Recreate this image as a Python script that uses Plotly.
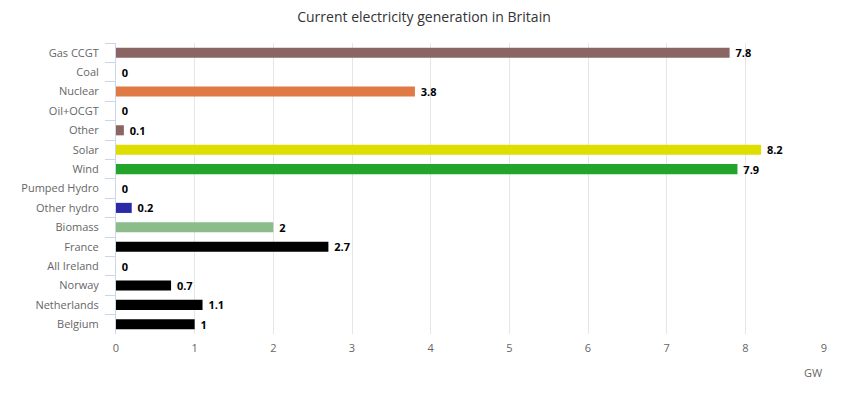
import plotly.graph_objects as go

categories = ["Gas CCGT", "Coal", "Nuclear", "Oil+OCGT", "Other", "Solar", "Wind",
              "Pumped Hydro", "Other hydro", "Biomass", "France", "All Ireland",
              "Norway", "Netherlands", "Belgium"]
values = [7.8, 0, 3.8, 0, 0.1, 8.2, 7.9, 0, 0.2, 2, 2.7, 0, 0.7, 1.1, 1]
colors = ["#8b6464", "#8b6464", "#e07a45", "#8b6464", "#8b6464", "#dede00", "#22a52a",
          "#2a2aa8", "#2a2aa8", "#8abd8a", "#000000", "#000000", "#000000", "#000000", "#000000"]
x_ticks = list(range(0, 10))

font_family = "Open Sans, DejaVu Sans, sans-serif"

fig = go.Figure(go.Bar(
    y=categories,
    x=values,
    orientation="h",
    marker=dict(color=colors, line=dict(width=0)),
    text=[f"{v:g}" for v in values],
    texttemplate="\u00a0<b>%{text}</b>",
    textposition="outside",
    constraintext="none",
    outsidetextfont=dict(size=11, color="#000000", family=font_family),
    textfont=dict(size=11, color="#000000", family=font_family),
    cliponaxis=False,
    hoverinfo="x+y",
))

H = 396
plot_top = 43
plot_bottom = 334
plot_h = plot_bottom - plot_top

fig.update_layout(
    width=848, height=H,
    margin=dict(l=116, r=24, t=plot_top, b=H - plot_bottom, autoexpand=False),
    paper_bgcolor="white", plot_bgcolor="white",
    bargap=0.48,
    showlegend=False,
    font=dict(family=font_family, color="#666666", size=11),
    title=dict(text="Current electricity generation in Britain", x=0.5, xanchor="center",
               y=1 - 17 / H, yanchor="middle",
               font=dict(size=14, color="#333333", family=font_family)),
    xaxis=dict(range=[0, 9], tickvals=x_ticks, showgrid=True, gridcolor="#e6e6e6",
               gridwidth=1, zeroline=False, showline=False, ticks="", automargin=False,
               ticklabelstandoff=6,
               tickfont=dict(size=11, color="#666666"), fixedrange=True),
    yaxis=dict(categoryorder="array", categoryarray=categories, autorange="reversed",
               showline=True, linecolor="#ccd6eb", linewidth=1, ticks="outside",
               tickson="boundaries", ticklen=10, tickcolor="#ccd6eb", showgrid=False,
               automargin=False, ticklabelstandoff=14,
               tickfont=dict(size=11, color="#666666"), fixedrange=True),
    annotations=[dict(text="GW", xref="paper", yref="paper", x=1, xanchor="right",
                      y=-(372 - plot_bottom) / plot_h, yanchor="middle", showarrow=False,
                      font=dict(size=11, color="#666666", family=font_family))],
)

fig.write_html("out.html", config={"displayModeBar": False},
               post_script="document.body.style.margin='0';document.body.style.overflow='hidden';")
